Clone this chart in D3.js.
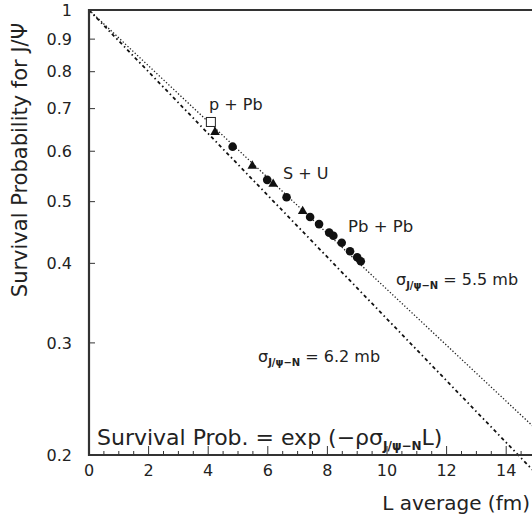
<!DOCTYPE html>
<html>
<head>
<meta charset="utf-8">
<script src="https://cdn.jsdelivr.net/npm/d3@7"></script>
<style>
  body { margin: 0; background: #fff; }
  svg text { font-family: "DejaVu Sans", sans-serif; fill: #222; }
</style>
</head>
<body>
<div id="chart"></div>
<script>
// data
const pPbL = [4.09];
const pPbP = [0.667];

const sUL = [4.23, 5.48, 6.18, 7.17];
const sUP = [0.643, 0.569, 0.533, 0.483];

const pbPbL = [4.82, 5.98, 6.63, 7.42, 7.72, 8.06, 8.20, 8.48, 8.76, 9.00, 9.12];
const pbPbP = [0.610, 0.541, 0.508, 0.473, 0.461, 0.447, 0.442, 0.431, 0.418, 0.409, 0.403];

// absorption lines (endpoints)
const lineL = [0, 15];
const line55 = [1, 0.2196];
const line62 = [1, 0.1871];

const yTicks = [0.2, 0.3, 0.4, 0.5, 0.6, 0.7, 0.8, 0.9, 1];
const xTicks = [0, 2, 4, 6, 8, 10, 12, 14];

// dimensions
const width = 532;
const height = 520;
const mLeft = 89, mTop = 10, mBottom = 455;

const x = d3.scaleLinear().domain([0, 15]).range([mLeft, mLeft + 15 * 29.8]);
const y = d3.scaleLog().domain([0.2, 1]).range([mBottom, mTop]);

const svg = d3.select('#chart')
  .append('svg')
  .attr('width', width)
  .attr('height', height);

const plot = svg.append('g');

// lines
const line = d3.line()
  .x(d => x(d[0]))
  .y(d => y(d[1]));

plot.append('path')
  .attr('d', line(lineL.map((l, i) => [l, line55[i]])))
  .attr('fill', 'none')
  .attr('stroke', '#222')
  .attr('stroke-width', 1.3)
  .attr('stroke-dasharray', '1.3,2');

plot.append('path')
  .attr('d', line(lineL.map((l, i) => [l, line62[i]])))
  .attr('fill', 'none')
  .attr('stroke', '#111')
  .attr('stroke-width', 1.8)
  .attr('stroke-dasharray', '3.5,3,1.5,3');

// points
plot.selectAll('.pb')
  .data(pbPbL.map((l, i) => [l, pbPbP[i]]))
  .enter().append('circle')
  .attr('cx', d => x(d[0]))
  .attr('cy', d => y(d[1]))
  .attr('r', 4.3)
  .attr('fill', '#111');

plot.selectAll('.su')
  .data(sUL.map((l, i) => [l, sUP[i]]))
  .enter().append('path')
  .attr('d', d3.symbol().type(d3.symbolTriangle).size(40))
  .attr('transform', d => `translate(${x(d[0])},${y(d[1])})`)
  .attr('fill', '#111');

plot.selectAll('.ppb')
  .data(pPbL.map((l, i) => [l, pPbP[i]]))
  .enter().append('rect')
  .attr('x', d => x(d[0]) - 4.5)
  .attr('y', d => y(d[1]) - 4.5)
  .attr('width', 9)
  .attr('height', 9)
  .attr('fill', '#fff')
  .attr('stroke', '#222')
  .attr('stroke-width', 1);

// frame
svg.append('path')
  .attr('d', `M${width},${mTop}H${mLeft}V${mBottom}H${width}`)
  .attr('fill', 'none')
  .attr('stroke', '#333')
  .attr('stroke-width', 2.2);

// y ticks
svg.selectAll('.yt')
  .data(yTicks.slice(1, -1))
  .enter().append('line')
  .attr('x1', mLeft).attr('x2', mLeft + 6)
  .attr('y1', d => y(d)).attr('y2', d => y(d))
  .attr('stroke', '#333');

svg.selectAll('.yl')
  .data(yTicks)
  .enter().append('text')
  .attr('x', 72)
  .attr('y', d => y(d))
  .attr('dy', '0.36em')
  .attr('text-anchor', 'end')
  .attr('font-size', 16)
  .text(d => d === 1 ? '1' : d3.format('.1f')(d));

// x ticks
const minor = d3.range(0.5, 15, 0.5);
svg.selectAll('.xt')
  .data(minor)
  .enter().append('line')
  .attr('x1', d => x(d)).attr('x2', d => x(d))
  .attr('y1', mBottom)
  .attr('y2', d => mBottom - (d % 2 === 0 ? 9 : 4))
  .attr('stroke', '#333');

svg.selectAll('.xl')
  .data(xTicks)
  .enter().append('text')
  .attr('x', d => x(d))
  .attr('y', 476)
  .attr('text-anchor', 'middle')
  .attr('font-size', 16)
  .text(d => d);

// axis titles
svg.append('text')
  .attr('x', 530)
  .attr('y', 510)
  .attr('text-anchor', 'end')
  .attr('font-size', 20)
  .text('L average (fm)');

svg.append('text')
  .attr('transform', 'translate(27,160) rotate(-90)')
  .attr('text-anchor', 'middle')
  .attr('font-size', 21)
  .text('Survival Probability for J/\u03A8');

// annotations
const note = (px, py, txt, size) => svg.append('text')
  .attr('x', px).attr('y', py).attr('font-size', size).text(txt);

note(209, 110, 'p + Pb', 16);
note(283, 179, 'S + U', 16);
note(348, 232, 'Pb + Pb', 16.5);

const sigma = (px, py, val) => {
  const t = svg.append('text').attr('x', px).attr('y', py).attr('font-size', 16);
  t.append('tspan').text('\u03C3');
  t.append('tspan').attr('font-size', 10).attr('font-weight', 'bold')
    .attr('dy', 4).text('J/\u03C8\u2212N');
  t.append('tspan').attr('dy', -4).text(' = ' + val + ' mb');
};
sigma(396, 285, '5.5');
sigma(258, 362, '6.2');

const f = svg.append('text').attr('x', 97).attr('y', 445).attr('font-size', 22);
f.append('tspan').text('Survival Prob. = exp (\u2212\u03C1\u03C3');
f.append('tspan').attr('font-size', 12).attr('font-weight', 'bold')
  .attr('dy', 5).text('J/\u03C8\u2212N');
f.append('tspan').attr('dy', -5).text('L)');
</script>
</body>
</html>
